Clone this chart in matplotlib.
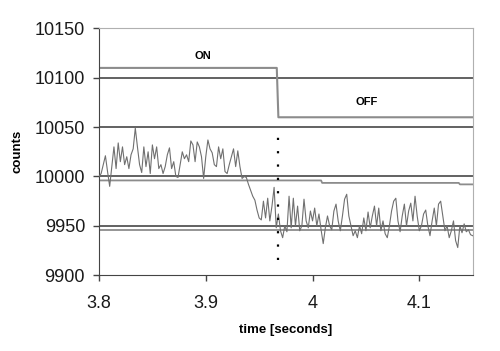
import numpy as np
import matplotlib
matplotlib.use("Agg")
import matplotlib.pyplot as plt

plt.rcParams["font.family"] = ["Liberation Sans", "DejaVu Sans"]

# measured counts, one sample every 2 ms from 3.800 s
t_start = 3.80
t_step = 0.002
counts = [
    10000, 10003, 10012, 10021, 10005,
    9990, 10010, 10030, 10008, 10034,
    10015, 10030, 10012, 10020, 10008,
    10022, 10028, 10049, 10030, 10012,
    10004, 10030, 10010, 10025, 10003,
    10032, 10018, 10030, 10008, 10012,
    10003, 10010, 10022, 10029, 10008,
    10015, 10000, 9999, 10012, 10025,
    10018, 10022, 10015, 10036, 10032,
    10015, 10035, 10030, 10020, 9998,
    10020, 10037, 10028, 10024, 10012,
    10010, 10030, 10018, 10028, 10005,
    10003, 10012, 10020, 10028, 10010,
    10026, 10010, 9998, 10000, 9999,
    9992, 9986, 9980, 9976, 9966,
    9958, 9956, 9975, 9958, 9978,
    9955, 9970, 9989, 9948, 9962,
    9945, 9938, 9950, 9944, 9980,
    9948, 9978, 9950, 9970, 9945,
    9950, 9977, 9955, 9948, 9965,
    9955, 9968, 9950, 9962, 9946,
    9932, 9948, 9960, 9950, 9946,
    9965, 9972, 9955, 9945, 9960,
    9977, 9982, 9960, 9950, 9940,
    9945, 9938, 9950, 9942, 9958,
    9945, 9964, 9948, 9960, 9970,
    9950, 9968, 9945, 9955, 9942,
    9938, 9950, 9965, 9975, 9978,
    9955, 9944, 9960, 9972, 9950,
    9965, 9973, 9955, 9980, 9960,
    9945, 9950, 9962, 9966, 9950,
    9940, 9955, 9968, 9950, 9972,
    9975, 9960, 9945, 9950, 9938,
    9945, 9955, 9935, 9928, 9950,
    9943, 9952, 9944, 9946, 9941,
    9940,
]
time = t_start + t_step * np.arange(len(counts))

# on/off state trace
state_t = [3.80, 3.9665, 3.968, 4.15]
state_y = [10110, 10110, 10060, 10060]

# running level lines
mean_t = [3.80, 4.008, 4.009, 4.137, 4.138, 4.15]
mean_y = [9996, 9996, 9993.5, 9993.5, 9992, 9992]
low_t = [3.80, 4.15]
low_y = [9946, 9946]

switch_t = 3.968
switch_span = (9915, 10040)

fig = plt.figure(figsize=(5, 3.51), dpi=100)
ax = fig.add_axes([0.198, 0.216, 0.7474, 0.703])

for g in [9950, 10000, 10050, 10100]:
    ax.axhline(g, color="#555555", lw=1.3, zorder=1)

ax.plot(state_t, state_y, color="#8c8c8c", lw=1.5, zorder=2)
ax.plot(mean_t, mean_y, color="#8c8c8c", lw=1.3, zorder=2)
ax.plot(low_t, low_y, color="#8c8c8c", lw=1.3, zorder=2)
ax.plot(time, counts, color="#707070", lw=0.8, zorder=3)
ax.plot([switch_t, switch_t], switch_span, color="black", lw=1.6,
        linestyle=(0, (1, 5)), zorder=4)

ax.text(3.897, 10122, "ON", fontsize=8, fontweight="bold", ha="center", va="center")
ax.text(4.051, 10075, "OFF", fontsize=8, fontweight="bold", ha="center", va="center")

ax.set_xlim(3.8, 4.15)
ax.set_ylim(9900, 10150)
ax.set_xticks([3.8, 3.9, 4.0, 4.1])
ax.set_xticklabels(["3.8", "3.9", "4", "4.1"])
ax.set_yticks([9900, 9950, 10000, 10050, 10100, 10150])
ax.tick_params(labelsize=13, length=4, width=1, color="#444444",
               labelcolor="#1a1a1a")
ax.tick_params(axis="x", pad=10)
ax.tick_params(axis="y", pad=6)

ax.spines["left"].set_color("#444444")
ax.spines["bottom"].set_color("#444444")
ax.spines["top"].set_color("#b0b0b0")
ax.spines["right"].set_color("#b0b0b0")

ax.set_xlabel("time [seconds]", fontsize=9.5, fontweight="bold", labelpad=9)
ax.set_ylabel("counts", fontsize=9.5, fontweight="bold", labelpad=8)

fig.savefig("out.png", dpi=100)
